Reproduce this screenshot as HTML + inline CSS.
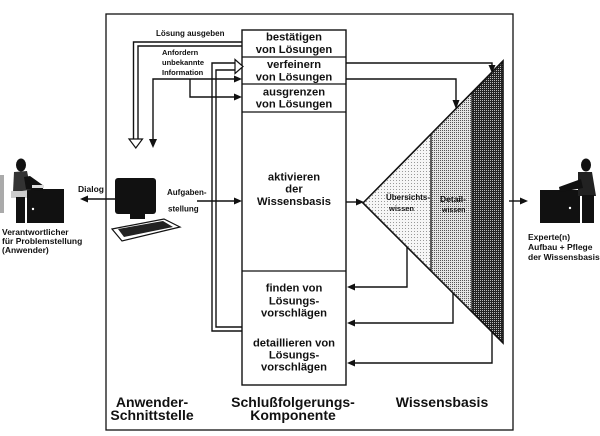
<!DOCTYPE html>
<html><head><meta charset="utf-8"><style>
html,body{margin:0;padding:0;background:#fff;}
svg{display:block;}
text{font-family:"Liberation Sans",Arial,sans-serif;font-weight:bold;fill:#111;}
.m{font-size:11.2px;text-anchor:middle;}
.b{font-size:14px;text-anchor:middle;}
.s{font-size:8px;}
</style></head><body>
<svg width="600" height="436" viewBox="0 0 600 436" xmlns="http://www.w3.org/2000/svg">
<defs>
<pattern id="p1" width="3" height="3" patternUnits="userSpaceOnUse"><rect width="3" height="3" fill="#f6f6f6"/><rect width="1" height="1" fill="#999"/></pattern>
<pattern id="p2" width="2" height="2" patternUnits="userSpaceOnUse"><rect width="2" height="2" fill="#e4e4e4"/><rect width="1" height="1" fill="#555"/></pattern>
<pattern id="p3" width="2" height="2" patternUnits="userSpaceOnUse"><rect width="2" height="2" fill="#222"/><rect width="1" height="1" fill="#bbb"/></pattern>
</defs>
<rect width="600" height="436" fill="#fff"/>

<!-- frame -->
<rect x="106" y="14" width="407" height="416" fill="none" stroke="#111" stroke-width="1.3"/>

<!-- knowledge triangle -->
<polygon points="363,203 431,134 431,271" fill="url(#p1)"/>
<polygon points="431,134 472,92 472,312 431,271" fill="url(#p2)"/>
<polygon points="472,92 503,61 503,343 472,312" fill="url(#p3)"/>
<polygon points="363,203 503,61 503,343" fill="none" stroke="#111" stroke-width="1.6"/>
<line x1="431" y1="134" x2="431" y2="271" stroke="#111" stroke-width="1.3"/>
<line x1="472" y1="92" x2="472" y2="312" stroke="#111" stroke-width="1.3"/>
<text class="s" x="386" y="200">Übersichts-</text>
<text class="s" x="389" y="211" style="font-size:7.5px">wissen</text>
<text class="s" x="440" y="202" style="font-size:8.5px">Detail-</text>
<text class="s" x="442" y="212" style="font-size:7px">wissen</text>

<!-- middle box -->
<rect x="242" y="30" width="104" height="355" fill="none" stroke="#111" stroke-width="1.4"/>
<line x1="242" y1="57" x2="346" y2="57" stroke="#111" stroke-width="1.3"/>
<line x1="242" y1="84" x2="346" y2="84" stroke="#111" stroke-width="1.3"/>
<line x1="242" y1="112" x2="346" y2="112" stroke="#111" stroke-width="1.3"/>
<line x1="242" y1="271" x2="346" y2="271" stroke="#111" stroke-width="1.3"/>
<text class="m" x="294" y="40.5">bestätigen</text>
<text class="m" x="294" y="53">von Lösungen</text>
<text class="m" x="294" y="68">verfeinern</text>
<text class="m" x="294" y="80.5">von Lösungen</text>
<text class="m" x="294" y="95.5">ausgrenzen</text>
<text class="m" x="294" y="107.5">von Lösungen</text>
<text class="m" x="294" y="180.5">aktivieren</text>
<text class="m" x="294" y="192.5">der</text>
<text class="m" x="294" y="205">Wissensbasis</text>
<text class="m" x="294" y="291.5">finden von</text>
<text class="m" x="294" y="304.5">Lösungs-</text>
<text class="m" x="294" y="316.5">vorschlägen</text>
<text class="m" x="294" y="346.5">detaillieren von</text>
<text class="m" x="294" y="358.5">Lösungs-</text>
<text class="m" x="294" y="370.5">vorschlägen</text>

<!-- connectors -->
<g fill="none" stroke="#111" stroke-width="1.4">
  <!-- Lösung ausgeben hollow -->
  <path d="M242,42 H133.5 V139"/>
  <path d="M242,46 H138 V139"/>
  <!-- Anfordern solid -->
  <path d="M236,79 H153 V140"/>
  <path d="M190,79 V97 H236"/>
  <!-- hollow channel -->
  <path d="M242,331 H212 V63 H236"/>
  <path d="M242,327 H216 V70 H236"/>
  <!-- Aufgabenstellung -->
  <path d="M197,201 H236"/>
  <!-- Dialog -->
  <path d="M116,199 H87"/>
  <!-- apex -->
  <path d="M346,202 H357"/>
  <!-- to triangle top -->
  <path d="M346,63 H492 V66"/>
  <path d="M346,79 H456 V101"/>
  <!-- from triangle bottom -->
  <path d="M407,247 V287 H354"/>
  <path d="M453,293 V323 H354"/>
  <path d="M492,332 V363 H354"/>
  <!-- expert -->
  <path d="M509,201 H521"/>
</g>
<g fill="#111">
  <polygon points="149,139 157,139 153,148"/>
  <polygon points="234,75.5 242,79 234,82.5"/>
  <polygon points="234,93.5 242,97 234,100.5"/>
  <polygon points="234,197.5 242,201 234,204.5"/>
  <polygon points="88,195.5 80,199 88,202.5"/>
  <polygon points="356,198.5 364,202 356,205.5"/>
  <polygon points="488.5,65 495.5,65 492,73"/>
  <polygon points="452.5,100 459.5,100 456,109"/>
  <polygon points="355,283.5 347,287 355,290.5"/>
  <polygon points="355,319.5 347,323 355,326.5"/>
  <polygon points="355,359.5 347,363 355,366.5"/>
  <polygon points="520,197.5 528,201 520,204.5"/>
</g>
<!-- hollow arrowheads -->
<polygon points="129,139 142.5,139 135.8,148" fill="#fff" stroke="#111" stroke-width="1.2"/>
<polygon points="235,59.5 243,66.5 235,73.5" fill="#fff" stroke="#111" stroke-width="1.2"/>

<!-- small labels -->
<text class="s" x="156" y="36">Lösung ausgeben</text>
<text class="s" x="162" y="55" style="font-size:7.5px">Anfordern</text>
<text class="s" x="162" y="65" style="font-size:7.5px">unbekannte</text>
<text class="s" x="162" y="75" style="font-size:7.5px">Information</text>
<text class="s" x="78" y="192" style="font-size:8.5px">Dialog</text>
<text class="s" x="167" y="195">Aufgaben-</text>
<text class="s" x="168" y="211.5">stellung</text>
<text class="s" x="2" y="235" style="font-size:8.5px">Verantwortlicher</text>
<text class="s" x="2" y="244" style="font-size:8.5px">für Problemstellung</text>
<text class="s" x="2" y="253" style="font-size:8.5px">(Anwender)</text>
<text class="s" x="528" y="240" style="font-size:8.5px">Experte(n)</text>
<text class="s" x="528" y="250" style="font-size:8.5px">Aufbau + Pflege</text>
<text class="s" x="528" y="260" style="font-size:8.5px">der Wissensbasis</text>

<!-- bottom labels -->
<text class="b" x="152" y="407">Anwender-</text>
<text class="b" x="152" y="420">Schnittstelle</text>
<text class="b" x="293" y="407">Schlußfolgerungs-</text>
<text class="b" x="293" y="420">Komponente</text>
<text class="b" x="442" y="407">Wissensbasis</text>

<!-- left person -->
<rect x="0" y="175" width="4" height="38" fill="#aaa"/>
<rect x="27" y="189" width="37" height="34" fill="#111"/>
<circle cx="33" cy="209" r="1.2" fill="#fff"/>
<ellipse cx="21" cy="165" rx="5" ry="6.5" fill="#111"/>
<polygon points="14,172 27,171 31,190 13,192" fill="#333"/>
<polygon points="24,177 30,176 44,186 42,191 26,189" fill="#111"/>
<rect x="32" y="185" width="12" height="3" fill="#ddd"/>
<rect x="11" y="191" width="16" height="7" fill="#ccc"/>
<rect x="16" y="197" width="9" height="26" fill="#111"/>

<!-- right person -->
<rect x="540" y="190" width="40" height="33" fill="#111"/>
<circle cx="570" cy="208" r="1.2" fill="#fff"/>
<ellipse cx="586" cy="165" rx="5" ry="6.5" fill="#111"/>
<polygon points="578,172 592,172 596,196 578,196" fill="#222"/>
<polygon points="581,179 559,187 560,192 583,188" fill="#111"/>
<rect x="582" y="195" width="12" height="28" fill="#111"/>

<!-- computer -->
<rect x="115" y="178" width="41" height="36" rx="3" fill="#111"/>
<rect x="130" y="213" width="15" height="6" fill="#111"/>
<polygon points="112,229 164,219 180,227 122,241" fill="#fff" stroke="#111" stroke-width="1.2"/>
<polygon points="118,229 163,221 173,227 124,237" fill="#222"/>
</svg>
</body></html>
